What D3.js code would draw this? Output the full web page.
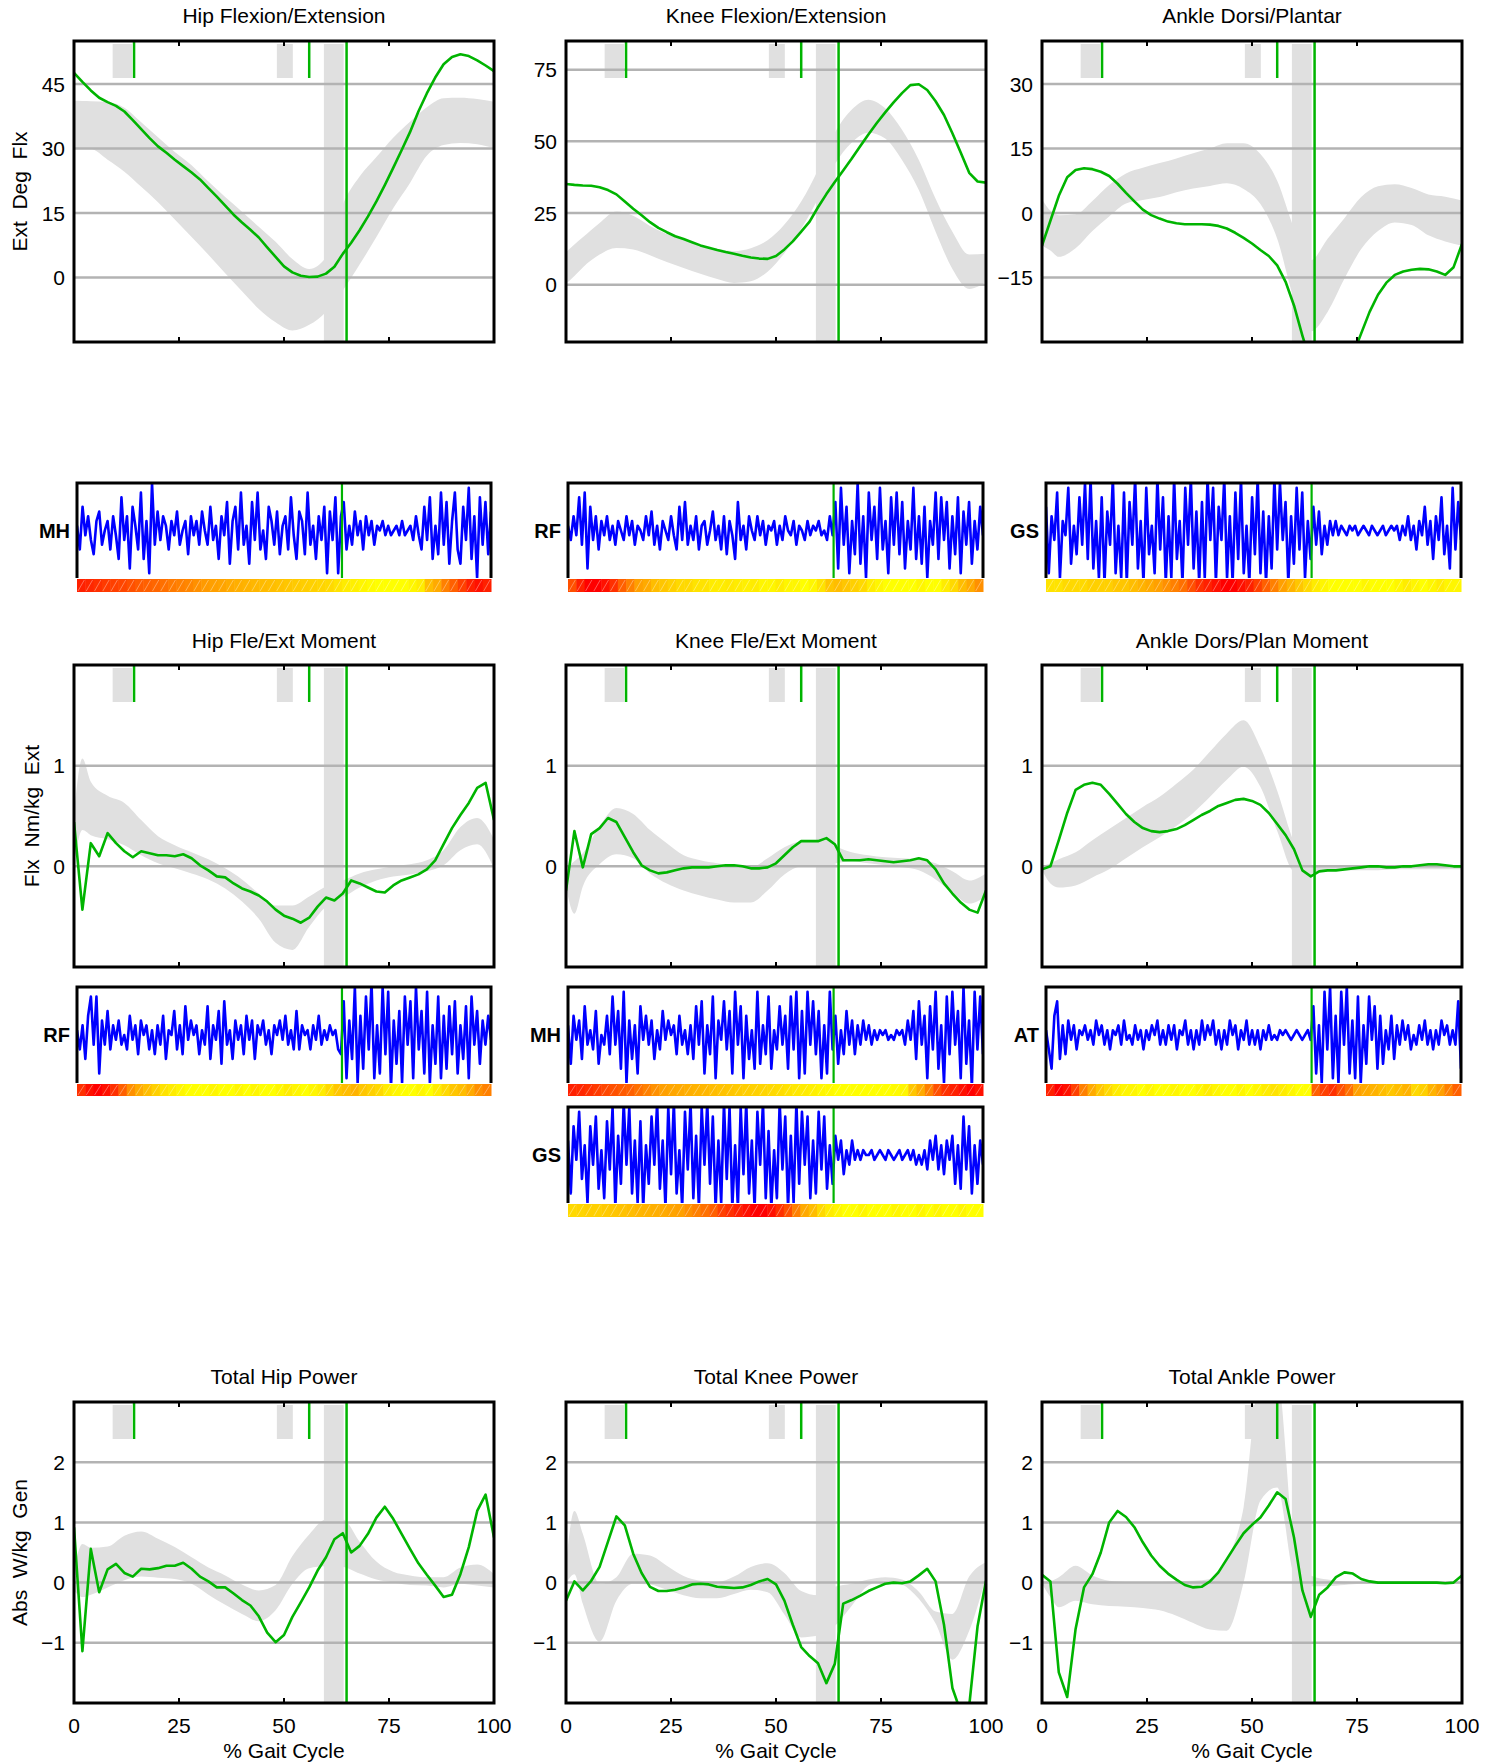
<!DOCTYPE html>
<html><head><meta charset="utf-8">
<script src="https://cdn.jsdelivr.net/npm/d3@7"></script>
<style>body{margin:0;background:#fff}svg{display:block}text{font-family:"Liberation Sans",Arial,Helvetica,sans-serif;fill:#000}</style>
</head><body><svg id="c" width="1495" height="1764"></svg>
<script>
// ---------- abscissae (% gait cycle) ----------
const PCT2 = [0,2,4,6,8,10,12,14,16,18,20,22,24,26,28,30,32,34,36,38,40,42,44,46,48,50,52,54,56,58,60,62,64,66,68,70,72,74,76,78,80,82,84,86,88,90,92,94,96,98,100];
const PCT_B = [0,2,4,8,12,16,20,24,28,32,36,40,44,48,52,56,60,64,68,72,76,80,84,88,92,96,100];
const X_TICKS = [0,25,50,75,100];
// ---------- gait events (%) ----------
const EVENT_RECTS = [[9.2,13.8],[48.3,52.1]];
const EVENT_TICKS = [14.3,56.0];
const FO_BAND = [59.5,64.2];
const FO_LINE = 64.9;
const EMG_FO = 64.0;

// ---------- kinematics ----------
const hipFlexGreen = [47.6,45.5,43.5,41.8,40.8,39.9,38.6,36.6,34.5,32.4,30.5,29.0,27.4,25.9,24.4,22.8,20.8,18.8,16.7,14.6,12.8,11.1,9.3,7.0,4.8,2.6,1.2,0.4,0.1,0.2,0.9,2.5,5.5,8.1,11.0,14.2,17.7,21.5,25.5,29.6,33.8,38.6,42.8,46.5,49.6,51.3,51.9,51.5,50.5,49.3,48.0];
const hipFlexUp = [41.1,41.05,41.0,40.8,39.5,36.1,32.6,29.2,26.1,22.3,18.7,15.3,11.8,8.3,4.3,2.0,4.7,17.0,23.5,28.0,32.5,36.2,39.6,41.7,41.8,41.5,40.9];
const hipFlexLo = [29.8,29.8,29.8,27.4,24.6,21.1,17.5,13.5,9.4,5.3,1.0,-3.2,-7.3,-10.4,-12.3,-11.0,-8.0,-3.0,3.0,9.4,16.1,22.0,28.3,30.8,31.3,31.0,30.1];

const kneeFlexGreen = [35.1,34.8,34.6,34.5,34.0,33.0,31.5,29.0,26.5,24.2,21.8,19.8,18.3,16.9,15.9,14.8,13.7,12.9,12.1,11.4,10.8,10.1,9.5,9.1,9.0,10.0,12.3,15.1,18.5,22.0,27.0,31.6,35.8,39.8,43.9,48.2,52.4,56.4,60.1,63.6,66.8,69.6,69.9,67.9,64.0,59.2,52.8,46.0,39.0,36.0,35.6];
const kneeFlexUp = [11.3,14.0,16.5,21.5,25.5,24.0,20.5,17.7,15.7,13.7,12.5,11.7,12.7,15.5,21.0,29.0,40.0,53.0,61.0,64.5,61.5,54.0,43.5,30.0,18.5,10.5,10.8];
const kneeFlexLo = [0.3,3.0,6.0,10.5,12.8,12.3,10.3,7.9,5.8,3.8,2.0,0.6,1.2,4.5,11.0,19.5,30.0,42.0,49.5,53.0,51.0,43.5,33.0,18.5,5.5,-1.5,0.9];

const ankleDorsiGreen = [-7.6,-1.8,4.0,8.3,10.0,10.4,10.2,9.6,8.6,6.8,4.7,2.7,0.8,-0.5,-1.3,-2.0,-2.4,-2.6,-2.6,-2.6,-2.7,-3.0,-3.6,-4.6,-5.8,-7.1,-8.6,-10.0,-12.2,-16.0,-21.5,-28.5,-35,-39,-41,-40,-37,-33,-28.0,-23.0,-19.0,-16.2,-14.4,-13.6,-13.2,-13.0,-13.1,-13.6,-14.4,-12.6,-7.2];
const ankleDorsiUp = [3.2,0.5,-0.5,-0.3,2.8,6.5,9.2,10.5,11.6,12.7,13.9,15.0,16.2,16.2,13.7,7.5,-3.5,-11.0,-6.0,-1.2,3.7,6.2,6.7,5.8,4.3,3.8,2.9];
const ankleDorsiLo = [-7.6,-8.7,-10.2,-8.2,-4.2,-0.8,2.2,3.0,3.7,4.8,5.7,6.3,6.9,5.6,2.1,-6.0,-20.0,-27.5,-23.0,-15.3,-8.4,-4.2,-2.2,-2.8,-5.2,-6.6,-7.6];

// ---------- moments ----------
const hipMomGreen = [0.44,-0.43,0.23,0.10,0.33,0.23,0.15,0.09,0.15,0.13,0.11,0.11,0.10,0.12,0.08,0.01,-0.04,-0.10,-0.11,-0.17,-0.22,-0.25,-0.29,-0.35,-0.43,-0.49,-0.52,-0.56,-0.51,-0.40,-0.31,-0.34,-0.27,-0.14,-0.17,-0.21,-0.25,-0.26,-0.19,-0.14,-0.11,-0.08,-0.03,0.06,0.22,0.38,0.51,0.63,0.78,0.83,0.46];
const hipMomUp = [0.52,1.07,0.84,0.70,0.63,0.46,0.30,0.21,0.14,0.07,-0.02,-0.13,-0.27,-0.39,-0.39,-0.30,-0.20,-0.14,-0.07,-0.03,0.00,0.02,0.06,0.16,0.39,0.48,0.27];
const hipMomLo = [0.02,0.36,0.31,0.27,0.21,0.11,0.03,-0.02,-0.07,-0.13,-0.22,-0.35,-0.52,-0.76,-0.83,-0.60,-0.40,-0.31,-0.21,-0.14,-0.10,-0.08,-0.05,0.01,0.16,0.22,-0.02];

const kneeMomGreen = [-0.24,0.35,-0.01,0.32,0.38,0.48,0.44,0.29,0.14,0.01,-0.04,-0.07,-0.06,-0.04,-0.02,-0.01,-0.01,-0.01,0.0,0.01,0.01,0.0,-0.02,-0.02,-0.01,0.03,0.11,0.19,0.25,0.25,0.25,0.28,0.22,0.06,0.06,0.06,0.07,0.06,0.05,0.04,0.05,0.06,0.08,0.06,-0.03,-0.17,-0.27,-0.36,-0.43,-0.46,-0.24];
const kneeMomUp = [-0.02,0.05,0.13,0.40,0.58,0.52,0.36,0.23,0.11,0.06,0.03,0.00,-0.01,0.08,0.19,0.25,0.26,0.20,0.14,0.11,0.09,0.08,0.07,0.03,-0.05,-0.14,-0.07];
const kneeMomLo = [-0.20,-0.47,-0.20,0.02,0.12,0.08,-0.07,-0.17,-0.24,-0.29,-0.33,-0.36,-0.36,-0.24,-0.08,0.00,0.01,0.03,0.05,0.03,0.01,-0.01,-0.04,-0.13,-0.26,-0.37,-0.30];

const ankleMomGreen = [-0.03,0.0,0.26,0.53,0.76,0.81,0.83,0.81,0.72,0.62,0.52,0.44,0.38,0.35,0.34,0.35,0.37,0.41,0.46,0.51,0.55,0.60,0.63,0.66,0.67,0.65,0.61,0.53,0.42,0.31,0.17,-0.04,-0.10,-0.05,-0.04,-0.04,-0.03,-0.02,-0.01,0.0,0.0,-0.01,-0.01,0.0,0.0,0.01,0.02,0.02,0.01,0.0,0.0];
const ankleMomUp = [0.00,0.03,0.07,0.14,0.26,0.37,0.48,0.59,0.69,0.82,0.96,1.14,1.32,1.45,1.18,0.75,0.24,0.00,-0.01,0.00,0.00,0.00,0.01,0.01,0.01,0.00,0.00];
const ankleMomLo = [-0.04,-0.17,-0.21,-0.19,-0.11,-0.03,0.08,0.19,0.29,0.40,0.53,0.69,0.86,0.99,0.79,0.35,-0.05,-0.07,-0.05,-0.04,-0.04,-0.04,-0.03,-0.03,-0.03,-0.03,-0.03];

// ---------- powers ----------
const hipPowGreen = [0.92,-1.14,0.56,-0.16,0.22,0.31,0.16,0.10,0.23,0.22,0.24,0.28,0.28,0.33,0.23,0.10,0.02,-0.08,-0.08,-0.18,-0.29,-0.38,-0.56,-0.83,-0.99,-0.87,-0.57,-0.33,-0.08,0.20,0.42,0.72,0.82,0.50,0.61,0.81,1.08,1.26,1.06,0.81,0.56,0.32,0.13,-0.05,-0.24,-0.20,0.14,0.59,1.19,1.46,0.75];
const hipPowUp = [0.20,0.64,0.58,0.60,0.78,0.85,0.73,0.59,0.42,0.25,0.12,-0.03,-0.13,-0.04,0.44,0.80,1.05,1.05,0.68,0.35,0.18,0.12,0.09,0.09,0.25,0.30,0.14];
const hipPowLo = [-0.13,-0.24,-0.20,-0.08,0.04,0.10,0.08,0.06,-0.02,-0.20,-0.37,-0.52,-0.64,-0.46,-0.02,0.24,0.27,0.26,0.15,0.05,0.00,-0.04,-0.05,-0.08,-0.02,-0.05,-0.08];

const kneePowGreen = [-0.30,0.02,-0.13,0.03,0.26,0.68,1.10,0.95,0.48,0.16,-0.07,-0.14,-0.14,-0.12,-0.08,-0.03,-0.02,-0.03,-0.07,-0.08,-0.09,-0.08,-0.04,0.02,0.06,-0.03,-0.30,-0.70,-1.07,-1.22,-1.34,-1.67,-1.35,-0.35,-0.29,-0.22,-0.14,-0.08,-0.02,0.0,-0.01,0.02,0.12,0.23,0.02,-0.70,-1.75,-2.15,-2.05,-0.72,0.03];
const kneePowUp = [0.31,1.19,0.81,-0.02,0.09,0.48,0.45,0.28,0.11,0.03,0.01,0.10,0.26,0.32,0.16,-0.14,-0.21,-0.07,-0.02,0.05,0.09,0.05,-0.15,-0.48,-0.52,0.10,0.34];
const kneePowLo = [-0.02,0.14,-0.35,-0.98,-0.30,-0.02,-0.03,-0.12,-0.21,-0.26,-0.26,-0.19,-0.12,-0.16,-0.53,-0.91,-0.88,-0.72,-0.39,-0.05,0.03,-0.03,-0.27,-0.68,-1.28,-0.80,0.09];

const anklePowGreen = [0.13,0.02,-1.49,-1.90,-0.77,-0.08,0.14,0.50,1.0,1.19,1.09,0.92,0.67,0.45,0.28,0.15,0.05,-0.04,-0.08,-0.07,0.02,0.17,0.39,0.61,0.82,0.96,1.08,1.28,1.50,1.39,0.75,-0.13,-0.57,-0.20,-0.08,0.09,0.17,0.15,0.06,0.02,0.0,0.0,0.0,0.0,0.0,0.0,0.0,0.0,-0.01,0.0,0.12];
const anklePowUp = [0.03,0.03,0.09,0.28,0.12,0.03,0.01,0.00,0.01,0.02,0.03,0.06,0.37,1.25,3.40,3.40,0.70,0.12,0.05,0.02,0.01,0.01,0.01,0.01,0.01,0.01,0.01];
const anklePowLo = [-0.02,-0.24,-0.41,-0.30,-0.36,-0.39,-0.40,-0.42,-0.46,-0.55,-0.67,-0.78,-0.80,0.00,1.36,1.58,0.15,-0.06,-0.06,-0.04,-0.02,-0.02,-0.02,-0.02,-0.02,-0.02,-0.02];

// ---------- y ticks ----------
const TICKS_HIP = [0,15,30,45];
const TICKS_KNEE = [0,25,50,75];
const TICKS_ANKLE = [-15,0,15,30];
const TICKS_MOM = [0,1];
const TICKS_POW = [-1,0,1,2];

// ---------- EMG signals (arbitrary units) ----------
const emgMH1 = [1,-4,5,-1,3,-2,-5,2,4,-3,0,2,-4,3,-1, -6,7,-2,3,-8,5,1,-4,8,-6,2,-9,10,-3,4, -2,3,1,-4,2,-1,4,-3,0,2,-5,3,-1,2,-3, 4,0,-3,5,-2,1,-6,3,-1,6,-7,2,5,-4,8, -3,1,-7,6,-2,8,-4,0,-6,5,2,-3,4,-5,1, 3,-4,7,-1,-6,4,2,-5,8,-3,1,-6,3,-2,5, -9,4,-2,7,-9,3,6,-4,1,-3,4,-1,2,-4,3, -1,2,-3,1,0,2,-1,1,-1,0,1,-1,2,-1,0, 1,-2,3,-1,-4,5,-2,7,-6,1,-5,8,-3,6,-7, 2,8,-4,-7,5,-2,9,-6,3,-10,7,-3,6,-5,4];
const emgRF1 = [1,-2,3,-1,7,-3,8,-8,5,-2,3,-4,2,-1,3, -2,1,-3,2,0,-2,3,-1,2,-3,1,0,-2,3,-1, 4,-3,1,-4,2,0,-2,3,-1,-4,5,-2,6,-3,1, -2,3,-4,1,2,-3,0,4,-2,1,-4,3,-5,2,-1, -6,6,-2,1,-4,3,0,-2,3,-1,2,-3,1,0,2, -3,1,-2,3,0,-1,2,-3,1,0,-2,2,-1,1,0, 2,-1,0,-2,3,-1,6,-8,9,-3,5,-9,2,-5,10, -7,3,-10,8,-2,5,-6,9,-4,2,-9,7,-3,8,-5, 6,-8,2,-4,9,-6,3,-7,5,-10,2,-3,8,-6,7, -2,6,-8,3,-5,7,-9,4,-3,6,-7,2,-4,5,-1];
const emgGS1 = [5,-9,3,-2,8,-10,2,-1,9,-7,1,-5,7,-3,10, -6,11,-8,2,-10,7,-11,4,-3,11,-9,1,-10,8,-11, 6,-3,11,-8,2,-11,9,-5,1,-9,11,-4,7,-11,3, -10,11,-6,2,-11,9,-3,11,-8,4,-11,6,-10,11,-2, 9,-11,5,-2,11,-10,3,-11,8,-6,11,-9,1,-11,7, -5,11,-9,4,-11,3,-8,11,-4,10,-2,6,-11,3,-7, 9,-4,8,-10,2,-6,5,-3,4,-5,1,-3,2,-1,2, -1,1,0,-1,1,0,1,-1,0,1,0,-1,1,0,-1, 0,1,-1,0,1,0,1,-2,1,-1,3,-2,1,-4,2, -1,5,-3,2,-6,3,-2,7,-5,1,-8,9,-4,6,-2];
const emgRF2 = [1,-3,2,-5,4,8,-2,8,-8,3,-2,5,-3,2,-1, 3,-2,0,-3,4,-1,2,-4,3,0,2,-3,1,-4,2, -2,4,-5,1,0,5,-3,2,-4,6,-1,3,0,2,-4, 1,-2,6,-5,2,-1,5,-6,7,-2,1,-5,3,-1,2, -4,4,-1,3,-5,2,0,3,-2,1,-4,2,0,3,-1, 4,-2,1,-3,5,-3,2,0,1,-3,2,-1,4,-2,1, -1,2,0,1,-3,-4,7,-9,3,-5,10,-10,4,-7,8, -3,11,-9,2,-8,10,-4,9,-11,3,-6,5,-10,8,-2, 7,-9,10,-3,5,-8,9,-10,2,-6,8,-9,4,-7,6, -4,7,-8,2,-5,6,-9,8,-2,5,-6,3,-2,4,-1];
const emgMH2 = [2,-6,4,-1,3,-5,6,-2,1,-3,5,-6,0,-2,4, -4,8,-2,5,-7,9,-10,3,-5,2,-8,6,-1,4,-2, 3,-5,1,-3,5,-1,3,0,2,-4,4,-2,1,-4,2, -5,6,-2,7,-8,2,-4,8,-9,3,-1,7,-3,5,-8, 9,-2,6,-9,4,-5,1,-7,9,-6,2,-4,8,-7,1, -3,6,-2,4,-7,8,-3,9,-9,5,-8,9,-2,7,-4, 5,-9,2,-8,9,-3,4,-6,1,-4,5,-2,3,-4,2, -2,3,-1,2,-2,1,-1,1,0,1,-1,0,-1,1,0, 1,-2,3,-1,5,-5,7,-2,4,-9,6,-3,9,-7,2, -10,8,-4,9,-2,5,-9,10,-6,3,-11,9,-3,8,-4];
const emgAT2 = [1,-3,-7,4,7,-5,2,-4,3,-1,2,-3,1,0,2, -1,1,-2,3,0,2,-2,1,-3,1,0,2,-2,3,-1, 0,-2,2,-1,1,-3,1,-1,2,0,3,-2,1,-2,2, -1,2,-3,1,0,3,-2,1,-3,1,-2,3,-1,2,0, 3,-2,1,-3,1,-2,3,0,2,-3,1,-1,3,-2,1, -2,1,-3,1,-1,2,-1,0,-1,1,0,1,0,-1,0, 1,0,-1,0,1,-1,6,-8,2,-10,9,-3,10,-9,4, -10,9,-2,10,-8,3,-9,8,-10,2,-6,8,-1,6,-7, 4,-6,1,-3,4,-5,2,-2,3,-1,2,-3,0,-2,2, -1,3,-2,1,-3,1,-2,3,0,2,-2,1,-2,7,-7];
const emgGS2 = [3,-8,6,-1,9,-5,2,-10,6,-2,8,-7,1,-9,7, -3,10,-11,4,-6,11,-2,10,-8,3,-10,7,-11,2,-6, 8,-2,11,-7,3,-11,10,-4,11,-8,1,-11,9,-3,11, -9,4,-11,10,-2,11,-6,8,-11,3,-10,11,-5,10,-11, 2,-11,10,-4,11,-8,3,-11,9,-2,11,-9,5,-11,1, -9,11,-3,8,-11,4,-10,11,-6,9,-2,8,-9,3,-8, 9,-3,8,-7,2,-6,4,-1,3,-4,1,-2,3,-1,1, -1,1,0,0,1,-1,0,1,0,-1,1,0,-1,0,1, -1,0,1,-1,1,-2,0,-2,1,-3,3,-1,4,-3,2, -4,3,-1,4,-6,2,-7,8,-3,6,-8,2,-6,3,-2];

// ---------- EMG colour bars (0 = yellow ... 1 = red) ----------
const barMH1 = [0.9,0.88,0.85,0.82,0.8,0.78,0.75,0.72,0.7,0.68,0.65,0.62,0.6,0.58,0.55,0.52,0.5,0.48,0.45,0.42,0.4,0.38,0.36,0.34,0.32,0.3,0.28,0.26,0.24,0.22,0.2,0.15,0.1,0.08,0.05,0.02,0.0,0.0,0.0,0.0,0.05,0.1,0.35,0.45,0.6,0.7,0.8,0.9,0.95,0.9];
const barRF1 = [0.75,0.9,1.0,1.0,0.95,0.85,0.7,0.6,0.5,0.45,0.35,0.3,0.25,0.2,0.2,0.15,0.15,0.1,0.1,0.12,0.1,0.08,0.1,0.05,0.05,0.1,0.05,0.05,0.0,0.05,0.15,0.3,0.35,0.3,0.25,0.2,0.1,0.05,0.0,0.0,0.0,0.0,0.05,0.0,0.0,0.1,0.2,0.35,0.45,0.55];
const barGS1 = [0.15,0.15,0.2,0.2,0.2,0.25,0.25,0.25,0.3,0.3,0.35,0.4,0.45,0.5,0.55,0.6,0.65,0.75,0.85,0.9,0.95,1.0,1.0,0.95,0.9,0.8,0.7,0.6,0.5,0.4,0.3,0.2,0.1,0.05,0.0,0.0,0.0,0.0,0.05,0.0,0.0,0.0,0.05,0.1,0.05,0.0,0.05,0.1,0.05,0.05];
const barRF2 = [0.85,0.95,1.0,0.95,0.85,0.7,0.55,0.45,0.35,0.25,0.15,0.1,0.05,0.0,0.0,0.0,0.05,0.0,0.0,0.05,0.0,0.05,0.0,0.0,0.05,0.1,0.05,0.0,0.05,0.1,0.2,0.3,0.35,0.4,0.3,0.25,0.2,0.1,0.05,0.0,0.0,0.05,0.0,0.1,0.2,0.3,0.35,0.45,0.55,0.6];
const barMH2 = [0.9,0.88,0.85,0.82,0.78,0.75,0.72,0.7,0.65,0.6,0.55,0.5,0.47,0.45,0.42,0.4,0.38,0.35,0.32,0.3,0.28,0.26,0.24,0.22,0.2,0.18,0.15,0.12,0.1,0.08,0.05,0.03,0.0,0.0,0.0,0.0,0.0,0.0,0.0,0.02,0.05,0.3,0.45,0.6,0.75,0.85,0.9,0.95,1.0,0.95];
const barAT2 = [0.9,1.0,0.95,0.8,0.6,0.45,0.3,0.2,0.1,0.05,0.05,0.0,0.05,0.0,0.0,0.05,0.0,0.0,0.05,0.1,0.05,0.0,0.0,0.05,0.0,0.05,0.1,0.15,0.1,0.05,0.0,0.0,0.7,0.8,0.85,0.75,0.65,0.5,0.45,0.4,0.35,0.3,0.35,0.4,0.2,0.25,0.4,0.5,0.6,0.7];
const barGS2 = [0.2,0.22,0.25,0.25,0.28,0.3,0.32,0.35,0.38,0.4,0.42,0.45,0.48,0.5,0.55,0.6,0.65,0.7,0.8,0.85,0.9,0.95,1.0,1.0,0.95,0.85,0.75,0.6,0.45,0.35,0.2,0.1,0.05,0.0,0.0,0.05,0.0,0.0,0.0,0.05,0.0,0.0,0.05,0.0,0.05,0.0,0.0,0.05,0.0,0.0];

// ---------- layout ----------
const COLS = [[74,494],[566,986],[1042,1462]];
const ROWS = [[41,342],[665,967],[1402,1703]];
const TITLE_Y = [23,648,1384];
const YLABEL_X = [19,31,19];
const EMG_COLS = [[77,491],[568,983],[1046,1461]];
const EMG_ROWS = [[483,578,592],[987,1083,1096],[1107,1203,1217]];
const GRAY = "#e0e0e0", GRID = "#b3b3b3", GREEN = "#00b400", BLUE = "#0000ff";
const FS = 21;

const panels = [
  {t:"Hip Flexion/Extension", c:0,r:0, dom:[-15,55], ticks:TICKS_HIP, g:hipFlexGreen, up:hipFlexUp, lo:hipFlexLo, yl:"Ext  Deg  Flx"},
  {t:"Knee Flexion/Extension", c:1,r:0, dom:[-20,85], ticks:TICKS_KNEE, g:kneeFlexGreen, up:kneeFlexUp, lo:kneeFlexLo},
  {t:"Ankle Dorsi/Plantar", c:2,r:0, dom:[-30,40], ticks:TICKS_ANKLE, g:ankleDorsiGreen, up:ankleDorsiUp, lo:ankleDorsiLo},
  {t:"Hip Fle/Ext Moment", c:0,r:1, dom:[-1,2], ticks:TICKS_MOM, g:hipMomGreen, up:hipMomUp, lo:hipMomLo, yl:"Flx  Nm/kg  Ext"},
  {t:"Knee Fle/Ext Moment", c:1,r:1, dom:[-1,2], ticks:TICKS_MOM, g:kneeMomGreen, up:kneeMomUp, lo:kneeMomLo},
  {t:"Ankle Dors/Plan Moment", c:2,r:1, dom:[-1,2], ticks:TICKS_MOM, g:ankleMomGreen, up:ankleMomUp, lo:ankleMomLo},
  {t:"Total Hip Power", c:0,r:2, dom:[-2,3], ticks:TICKS_POW, g:hipPowGreen, up:hipPowUp, lo:hipPowLo, yl:"Abs  W/kg  Gen", xl:true},
  {t:"Total Knee Power", c:1,r:2, dom:[-2,3], ticks:TICKS_POW, g:kneePowGreen, up:kneePowUp, lo:kneePowLo, xl:true},
  {t:"Total Ankle Power", c:2,r:2, dom:[-2,3], ticks:TICKS_POW, g:anklePowGreen, up:anklePowUp, lo:anklePowLo, xl:true}
];

const emgs = [
  {lab:"MH", c:0, r:0, sig:emgMH1, bar:barMH1},
  {lab:"RF", c:1, r:0, sig:emgRF1, bar:barRF1},
  {lab:"GS", c:2, r:0, sig:emgGS1, bar:barGS1},
  {lab:"RF", c:0, r:1, sig:emgRF2, bar:barRF2},
  {lab:"MH", c:1, r:1, sig:emgMH2, bar:barMH2},
  {lab:"AT", c:2, r:1, sig:emgAT2, bar:barAT2},
  {lab:"GS", c:1, r:2, sig:emgGS2, bar:barGS2}
];

const svg = d3.select("#c");
const defs = svg.append("defs");
const fmt = v => String(v).replace("-", "\u2212");

panels.forEach((p, k) => {
  const [x0, x1] = COLS[p.c], [y0, y1] = ROWS[p.r];
  const x = d3.scaleLinear().domain([0,100]).range([x0, x1]);
  const y = d3.scaleLinear().domain(p.dom).range([y1, y0]);
  const id = "clipP" + k;
  defs.append("clipPath").attr("id", id).append("rect")
    .attr("x", x0).attr("y", y0).attr("width", x1 - x0).attr("height", y1 - y0);
  const g = svg.append("g");
  const inner = g.append("g").attr("clip-path", `url(#${id})`);

  const bandData = PCT_B.map((t, i) => ({t, lo: p.lo[i], up: p.up[i]}));
  inner.append("path").datum(bandData)
    .attr("d", d3.area().x(d => x(d.t)).y0(d => y(d.lo)).y1(d => y(d.up)).curve(d3.curveMonotoneX))
    .attr("fill", GRAY);
  EVENT_RECTS.forEach(([a, b]) => inner.append("rect")
    .attr("x", x(a)).attr("width", x(b) - x(a)).attr("y", y0 + 3).attr("height", 34).attr("fill", GRAY));
  inner.append("rect").attr("x", x(FO_BAND[0])).attr("width", x(FO_BAND[1]) - x(FO_BAND[0]))
    .attr("y", y0 + 3).attr("height", y1 - y0 - 3).attr("fill", GRAY);
  p.ticks.forEach(v => inner.append("line").attr("x1", x0).attr("x2", x1).attr("y1", y(v)).attr("y2", y(v))
    .attr("stroke", GRID).attr("stroke-width", 2.5));
  EVENT_TICKS.forEach(e => inner.append("line").attr("x1", x(e)).attr("x2", x(e)).attr("y1", y0).attr("y2", y0 + 37)
    .attr("stroke", GREEN).attr("stroke-width", 2.5));
  inner.append("line").attr("x1", x(FO_LINE)).attr("x2", x(FO_LINE)).attr("y1", y0).attr("y2", y1)
    .attr("stroke", GREEN).attr("stroke-width", 2.5);
  inner.append("path").datum(PCT2.map((t, i) => [t, p.g[i]]))
    .attr("d", d3.line().x(d => x(d[0])).y(d => y(d[1])))
    .attr("fill", "none").attr("stroke", GREEN).attr("stroke-width", 2.6).attr("stroke-linejoin", "round");
  [25,50,75].forEach(v => {
    g.append("line").attr("x1", x(v)).attr("x2", x(v)).attr("y1", y0).attr("y2", y0 + 5).attr("stroke", "#000").attr("stroke-width", 2);
    g.append("line").attr("x1", x(v)).attr("x2", x(v)).attr("y1", y1).attr("y2", y1 - 5).attr("stroke", "#000").attr("stroke-width", 2);
  });
  g.append("rect").attr("x", x0).attr("y", y0).attr("width", x1 - x0).attr("height", y1 - y0)
    .attr("fill", "none").attr("stroke", "#000").attr("stroke-width", 3);
  p.ticks.forEach(v => g.append("text").attr("x", x0 - 9).attr("y", y(v) + 7.5)
    .attr("text-anchor", "end").attr("font-size", FS).text(fmt(v)));
  g.append("text").attr("x", (x0 + x1) / 2).attr("y", TITLE_Y[p.r]).attr("text-anchor", "middle")
    .attr("font-size", FS).text(p.t);
  if (p.yl) {
    g.append("text").attr("transform", `translate(${YLABEL_X[p.r]},${(y0 + y1) / 2}) rotate(-90)`)
      .attr("text-anchor", "middle").attr("dominant-baseline", "central").attr("font-size", FS)
      .style("white-space", "pre").text(p.yl);
  }
  if (p.xl) {
    X_TICKS.forEach(v => g.append("text").attr("x", x(v)).attr("y", y1 + 30).attr("text-anchor", "middle")
      .attr("font-size", FS).text(v));
    g.append("text").attr("x", (x0 + x1) / 2).attr("y", y1 + 55).attr("text-anchor", "middle")
      .attr("font-size", FS).text("% Gait Cycle");
  }
});

const barColor = d3.scaleLinear().domain([0, 0.5, 1]).range(["#ffff00", "#ffa000", "#ff0000"]);
emgs.forEach((e, k) => {
  const [x0, x1] = EMG_COLS[e.c], [yt, yb, ybar] = EMG_ROWS[e.r];
  const xs = d3.scaleLinear().domain([0, e.sig.length - 1]).range([x0, x1]);
  const xp = d3.scaleLinear().domain([0, 100]).range([x0, x1]);
  const ys = d3.scaleLinear().domain([-10, 10]).range([yb, yt]);
  const id = "clipE" + k;
  defs.append("clipPath").attr("id", id).append("rect")
    .attr("x", x0).attr("y", yt).attr("width", x1 - x0).attr("height", yb - yt);
  const g = svg.append("g");
  const xb = d3.scaleBand().domain(d3.range(e.bar.length)).range([x0, x1]);
  e.bar.forEach((v, i) => {
    g.append("rect").attr("x", xb(i)).attr("y", yb + 1).attr("width", xb.bandwidth() + 0.5).attr("height", ybar - yb - 1)
      .attr("fill", barColor(v));
    g.append("line").attr("x1", xb(i) + 1).attr("y1", ybar - 1).attr("x2", xb(i) + xb.bandwidth() - 1).attr("y2", yb + 2)
      .attr("stroke", "#fff").attr("stroke-opacity", 0.35).attr("stroke-width", 1);
  });
  g.append("path").attr("clip-path", `url(#${id})`).datum(e.sig)
    .attr("d", d3.line().x((d, i) => xs(i)).y(d => ys(d)))
    .attr("fill", "none").attr("stroke", BLUE).attr("stroke-width", 2.6).attr("stroke-linejoin", "round");
  g.append("line").attr("x1", xp(EMG_FO)).attr("x2", xp(EMG_FO)).attr("y1", yt).attr("y2", yb)
    .attr("stroke", GREEN).attr("stroke-width", 2.2);
  g.append("path").attr("d", `M${x0},${yb} V${yt} H${x1} V${yb}`)
    .attr("fill", "none").attr("stroke", "#000").attr("stroke-width", 3);
  g.append("text").attr("x", x0 - 7).attr("y", (yt + yb) / 2 + 7).attr("text-anchor", "end")
    .attr("font-size", 20).attr("font-weight", "bold").text(e.lab);
});
</script></body></html>
